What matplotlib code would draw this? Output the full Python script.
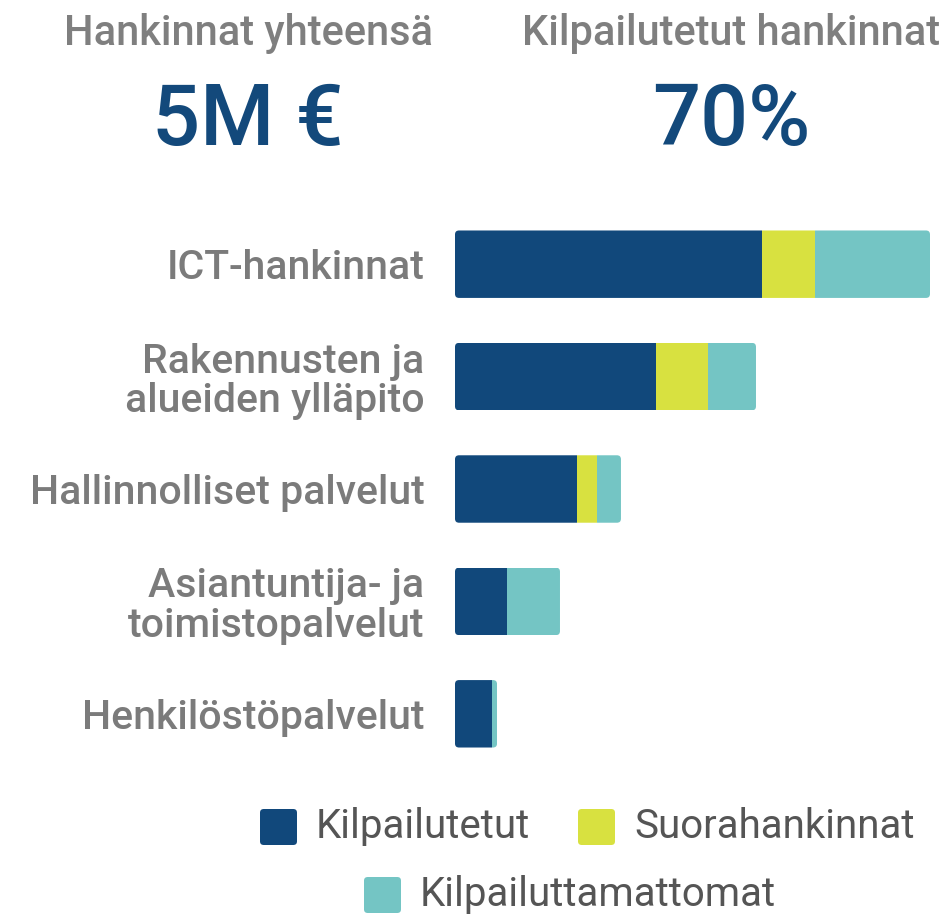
import matplotlib.pyplot as plt
from matplotlib.patches import FancyBboxPatch

plt.rcParams['font.family'] = ['Roboto', 'DejaVu Sans']

# values in thousands of euros
categories = ['ICT-hankinnat', 'Rakennusten ja\nalueiden ylläpito', 'Hallinnolliset palvelut',
              'Asiantuntija- ja\ntoimistopalvelut', 'Henkilöstöpalvelut']
kilpailutetut = [1410, 923, 560, 239, 170]
suorahankinnat = [243, 239, 92, 0, 0]
kilpailuttamattomat = [528, 220, 110, 243, 23]
series_names = ['Kilpailutetut', 'Suorahankinnat', 'Kilpailuttamattomat']
colors = ['#11487b', '#d8e140', '#74c5c4']

header_titles = ['Hankinnat yhteensä', 'Kilpailutetut hankinnat']
header_values = ['5M €', '70%']

W, H = 948, 918
fig = plt.figure(figsize=(W / 100, H / 100), dpi=100)

# main bar axes
ax_w, ax_h = 475, 562
ax = fig.add_axes([455 / W, 1 - 770 / H, ax_w / W, ax_h / H])
y = list(range(len(categories)))
left = [0] * len(categories)
bars = []
for vals, col, name in zip([kilpailutetut, suorahankinnat, kilpailuttamattomat], colors, series_names):
    bars.append(ax.barh(y, vals, left=left, height=0.6, color=col, label=name, edgecolor='none'))
    left = [l + v for l, v in zip(left, vals)]
xmax = max(left)
ax.set_xlim(0, xmax)
ax.set_ylim(len(categories) - 0.5, -0.5)

# rounded ends: clip each stacked row with a rounded box
ux = xmax / ax_w                 # data units per pixel, x
uy = len(categories) / ax_h      # data units per pixel, y
for i, total in enumerate(left):
    clip = FancyBboxPatch((0, i - 0.3), total, 0.6,
                          boxstyle=f'round,pad=0,rounding_size={4 * ux}',
                          mutation_aspect=uy / ux, transform=ax.transData,
                          facecolor='none', edgecolor='none')
    ax.add_patch(clip)
    for b in bars:
        b[i].set_clip_path(clip)

ax.set_yticks(y)
ax.set_yticklabels(categories, fontsize=29.5, fontweight='medium', color='#7b7b7b',
                   linespacing=1.05)
ax.tick_params(axis='y', length=0, pad=22)
ax.set_xticks([])
for s in ax.spines.values():
    s.set_visible(False)

# header figures
for cx, title, val in zip([248, 731], header_titles, header_values):
    fig.text(cx / W, 1 - 45 / H, title, ha='center', va='baseline', fontsize=30,
             fontweight='medium', color='#7f7f7f')
    fig.text(cx / W, 1 - 145 / H, val, ha='center', va='baseline', fontsize=61,
             fontweight='medium', color='#13497b')

# legend: two items on the first row, one centred below
legend_pos = [(260, 827), (578, 827), (364, 895)]
for (px, py), name, col in zip(legend_pos, series_names, colors):
    sq = FancyBboxPatch((px / W, 1 - (py + 18) / H), 37 / W, 36 / H,
                        boxstyle='round,pad=0,rounding_size=0.004',
                        transform=fig.transFigure, facecolor=col, edgecolor='none')
    fig.add_artist(sq)
    fig.text((px + 56) / W, 1 - py / H, name, ha='left', va='center', fontsize=29,
             color='#555555')

fig.savefig('out.png', dpi=100)
